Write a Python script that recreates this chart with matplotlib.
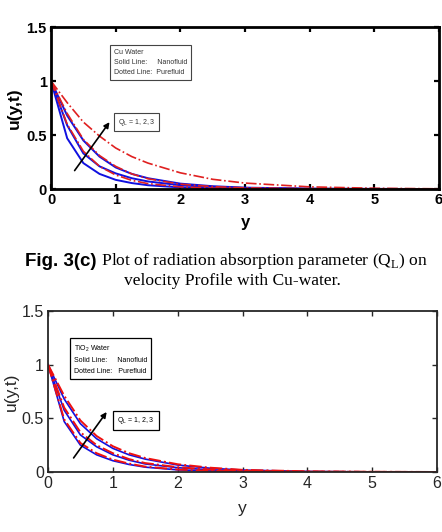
import matplotlib
matplotlib.use("Agg")
from matplotlib import pyplot as plt

plt.rcParams['font.family'] = 'Liberation Sans'
plt.rcParams['mathtext.fontset'] = 'custom'
plt.rcParams['mathtext.rm'] = 'Liberation Serif'
plt.rcParams['mathtext.sf'] = 'Liberation Sans'

# data
y_grid = [0, 0.25, 0.5, 0.75, 1, 1.25, 1.5, 2, 2.5, 3, 4, 5, 6]

cu_nano = [
    [1, 0.47, 0.24, 0.14, 0.085, 0.055, 0.035, 0.015, 0.007, 0.003, 0.001, 0, 0],
    [1, 0.59, 0.33, 0.21, 0.145, 0.10, 0.07, 0.035, 0.018, 0.009, 0.002, 0.001, 0],
    [1, 0.68, 0.45, 0.30, 0.20, 0.14, 0.10, 0.05, 0.026, 0.013, 0.003, 0.001, 0],
]
cu_pure = [
    [1, 0.60, 0.35, 0.21, 0.13, 0.08, 0.05, 0.02, 0.008, 0.003, 0.001, 0, 0],
    [1, 0.70, 0.46, 0.31, 0.21, 0.14, 0.095, 0.045, 0.022, 0.011, 0.003, 0.001, 0],
    [1, 0.80, 0.62, 0.49, 0.38, 0.30, 0.24, 0.15, 0.09, 0.055, 0.02, 0.007, 0.002],
]
tio2_nano = [
    [1, 0.47, 0.25, 0.16, 0.105, 0.07, 0.045, 0.02, 0.009, 0.004, 0.001, 0, 0],
    [1, 0.575, 0.345, 0.235, 0.16, 0.11, 0.075, 0.04, 0.02, 0.01, 0.002, 0.001, 0],
    [1, 0.68, 0.45, 0.31, 0.22, 0.16, 0.12, 0.065, 0.035, 0.018, 0.005, 0.001, 0],
]
tio2_pure = [
    [1, 0.49, 0.27, 0.175, 0.115, 0.078, 0.05, 0.023, 0.011, 0.005, 0.001, 0, 0],
    [1, 0.60, 0.37, 0.25, 0.175, 0.12, 0.083, 0.045, 0.023, 0.012, 0.003, 0.001, 0],
    [1, 0.71, 0.48, 0.335, 0.24, 0.175, 0.13, 0.072, 0.04, 0.02, 0.006, 0.002, 0],
]

x_ticks = [0, 1, 2, 3, 4, 5, 6]
y_ticks = [0, 0.5, 1, 1.5]
y_tick_labels = ['0', '0.5', '1', '1.5']

fig = plt.figure(figsize=(4.42, 5.32), dpi=100)


def setup(ax, bold, color):
    weight = 'bold' if bold else 'normal'
    ax.set_xlim(0, 6)
    ax.set_ylim(0, 1.5)
    ax.set_xticks(x_ticks)
    ax.set_xticklabels([str(t) for t in x_ticks], fontweight=weight)
    ax.set_yticks(y_ticks)
    ax.set_yticklabels(y_tick_labels, fontweight=weight)
    ax.tick_params(direction='in', top=True, right=True, length=3.5,
                   width=1.6 if bold else 1.0, colors=color,
                   labelsize=10.5 if bold else 11.5, labelcolor=color, pad=3)
    for sp in ax.spines.values():
        sp.set_linewidth(2.0 if bold else 1.3)
        sp.set_color(color)


# top panel: Cu water
ax1 = fig.add_axes([0.1154, 0.6447, 0.8778, 0.3045])
for v in cu_nano:
    ax1.plot(y_grid, v, color='#1010e0', lw=1.4)
for v in cu_pure:
    ax1.plot(y_grid, v, color='#e02020', lw=1.2, ls='-.')
setup(ax1, True, 'black')
ax1.set_ylabel('u(y,t)', fontsize=12.5, fontweight='bold', labelpad=3)
ax1.set_xlabel('y', fontsize=12, fontweight='bold', labelpad=5.5)
ax1.annotate('', xy=(0.93, 0.64), xytext=(0.34, 0.15),
             arrowprops=dict(arrowstyle='-|>', color='black', lw=1.2,
                             mutation_scale=8))
ax1.text(1.03, 0.62, r'Q$_\mathsf{L}$ = 1, 2, 3', fontsize=5, va='center',
         color='#333333',
         bbox=dict(boxstyle='square,pad=0.5', fc='white', ec='#444444', lw=0.8))
ax1.text(0.97, 1.17, 'Cu Water\nSolid Line:     Nanofluid\nDotted Line:  Purefluid',
         fontsize=5, va='center', linespacing=1.6, color='#333333',
         bbox=dict(boxstyle='square,pad=0.6', fc='white', ec='#444444', lw=0.8))

# bottom panel: TiO2 water
ax2 = fig.add_axes([0.1086, 0.1128, 0.8801, 0.3026])
for v in tio2_nano:
    ax2.plot(y_grid, v, color='#1010e0', lw=1.2)
for v in tio2_pure:
    ax2.plot(y_grid, v, color='#ee1010', lw=1.4, ls='-.')
setup(ax2, False, '#262626')
ax2.set_ylabel('u(y,t)', fontsize=12.5, color='#262626', labelpad=2)
ax2.set_xlabel('y', fontsize=12.5, color='#262626', labelpad=7)
ax2.annotate('', xy=(0.93, 0.58), xytext=(0.37, 0.11),
             arrowprops=dict(arrowstyle='-|>', color='black', lw=1.2,
                             mutation_scale=8))
ax2.text(1.07, 0.48, r'Q$_\mathsf{L}$ = 1, 2, 3', fontsize=5, va='center',
         bbox=dict(boxstyle='square,pad=0.6', fc='white', ec='black', lw=0.9))
ax2.text(0.40, 1.05, 'TiO$_\\mathsf{2}$ Water\nSolid Line:     Nanofluid\nDotted Line:   Purefluid',
         fontsize=5, va='center', linespacing=1.7,
         bbox=dict(boxstyle='square,pad=0.6', fc='white', ec='black', lw=0.9))

# caption between the panels
fig.canvas.draw()
r = fig.canvas.get_renderer()
t_bold = fig.text(0, 1 - 261 / 532, 'Fig. 3(c)', fontsize=13.5, fontweight='bold',
                  va='center', ha='left')
t_rest = fig.text(0, 1 - 261 / 532, r' Plot of radiation absorption parameter (Q$_\mathrm{L}$) on',
                  family='Liberation Serif', fontsize=12.6, va='center', ha='left')
w1 = t_bold.get_window_extent(r).width
w2 = t_rest.get_window_extent(r).width
x0 = (442 * 0.512 - (w1 + w2) / 2) / 442
t_bold.set_x(x0)
t_rest.set_x(x0 + w1 / 442)
fig.text(0.525, 1 - 281 / 532, 'velocity Profile with Cu-water.',
         family='Liberation Serif', fontsize=12.6, va='center', ha='center')

fig.savefig('out.png', dpi=100)
